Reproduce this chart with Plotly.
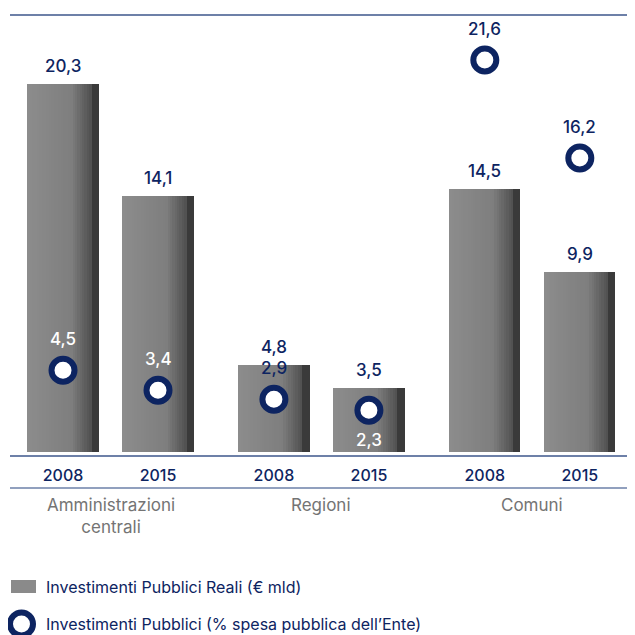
import plotly.graph_objects as go

groups = ["Amministrazioni<br>centrali", "Regioni", "Comuni"]
years = ["2008", "2015", "2008", "2015", "2008", "2015"]
invest_reali = [20.3, 14.1, 4.8, 3.5, 14.5, 9.9]    # € mld
invest_quota = [4.5, 3.4, 2.9, 2.3, 21.6, 16.2]     # % spesa pubblica dell'Ente

NAVY = "#0d2461"
GREY_TXT = "#747474"
RULE = "#6d80a8"
FONT = "Inter"

# the page body adds an 8px margin, so the figure is a bit smaller
OFF = 8
W, H = 627, 627
L, T, B = 2, 8, 180
X0, X1 = OFF + L, OFF + W          # plot area in screen px
Y0, Y1 = OFF + T, OFF + H - B

def py(ypx):
    return (Y1 - ypx) / (Y1 - Y0)

def px(xpx):
    return (xpx - X0) / (X1 - X0)

# two bars per group, wider gap between groups
x_pos = [g * 2.22 + j for g in range(len(groups)) for j in range(2)]
bar_w = 0.75

def fmt(v):
    return f"{v:.1f}".replace(".", ",")

def shade(t):
    if t < 0.6:
        v = 0x8c - (0x8c - 0x7e) * t / 0.6
    elif t < 0.9:
        v = 0x7e - (0x7e - 0x4c) * (t - 0.6) / 0.3
    else:
        v = 0x3a
    v = int(round(v))
    return f"rgb({v},{v},{v})"

fig = go.Figure()

# gradient bars: overlapping slices, each running to the right edge
n = 30
for k in range(n):
    fig.add_trace(go.Bar(
        x=x_pos, y=invest_reali,
        width=bar_w - k * bar_w / n,
        offset=-bar_w / 2 + k * bar_w / n,
        marker=dict(color=shade(k / n), line_width=0),
        showlegend=False, hoverinfo="skip",
    ))

fig.add_trace(go.Scatter(
    x=x_pos, y=invest_quota, mode="markers",
    marker=dict(size=23, color="white", line=dict(color=NAVY, width=6)),
    showlegend=False,
    hovertemplate="%{y:.1f}%<extra></extra>",
))

num_font = dict(color=NAVY, size=17, family=FONT, weight=500)

ann = []
for xp, v in zip(x_pos, invest_reali):
    ann.append(dict(x=xp, y=v, yshift=18, text=fmt(v), showarrow=False,
                    font=num_font))

label_below = {3}   # Regioni 2015: label under the circle
for i, (xp, q, r) in enumerate(zip(x_pos, invest_quota, invest_reali)):
    shift = -30 if i in label_below else 31
    label_y = q + shift / 18.15
    col = "white" if label_y < r - 0.2 else NAVY
    ann.append(dict(x=xp, y=q, yshift=shift, text=fmt(q), showarrow=False,
                    font=dict(num_font, color=col)))

for g, name in enumerate(groups):
    ann.append(dict(x=(x_pos[2 * g] + x_pos[2 * g + 1]) / 2, xref="x",
                    y=py(493), yref="paper", yanchor="top",
                    text=name, showarrow=False,
                    font=dict(color=GREY_TXT, size=17, family=FONT)))

# manual legend
ann.append(dict(x=px(44), y=py(587), xref="paper", yref="paper",
                xanchor="left", yanchor="middle", showarrow=False,
                text="Investimenti Pubblici Reali (€ mld)",
                font=dict(color=NAVY, size=16, family=FONT)))
ann.append(dict(x=px(44), y=py(624), xref="paper", yref="paper",
                xanchor="left", yanchor="middle", showarrow=False,
                text="Investimenti Pubblici (% spesa pubblica dell’Ente)",
                font=dict(color=NAVY, size=16, family=FONT)))

shapes = [
    dict(type="line", xref="paper", yref="paper", x0=0, x1=1,
         y0=py(488), y1=py(488), line=dict(color=RULE, width=1.5)),
    dict(type="rect", xref="paper", yref="paper", x0=px(11), x1=px(36),
         y0=py(593), y1=py(580), fillcolor="#8a8a8a", line_width=0),
    dict(type="circle", xref="paper", yref="paper", x0=px(10), x1=px(33),
         y0=py(635.5), y1=py(612.5), fillcolor="white",
         line=dict(color=NAVY, width=6)),
]

fig.update_layout(
    width=W, height=H,
    margin=dict(l=L, r=0, t=T, b=B),
    barmode="overlay", bargap=0,
    plot_bgcolor="white", paper_bgcolor="white",
    annotations=ann, shapes=shapes,
    showlegend=False,
    font=dict(family=FONT, color=NAVY),
)
fig.update_xaxes(
    range=[-0.558, 6.021], tickvals=x_pos, ticktext=years,
    tickfont=dict(color=NAVY, size=16, family=FONT, weight=500),
    ticks="outside", ticklen=5, tickcolor="rgba(0,0,0,0)",
    showline=True, linecolor=RULE, linewidth=1.5, mirror=True,
    showgrid=False, zeroline=False, fixedrange=True,
)
fig.update_yaxes(
    range=[-0.165, 24.02], visible=False, showgrid=False, fixedrange=True,
)

fig.write_html("out.html")
